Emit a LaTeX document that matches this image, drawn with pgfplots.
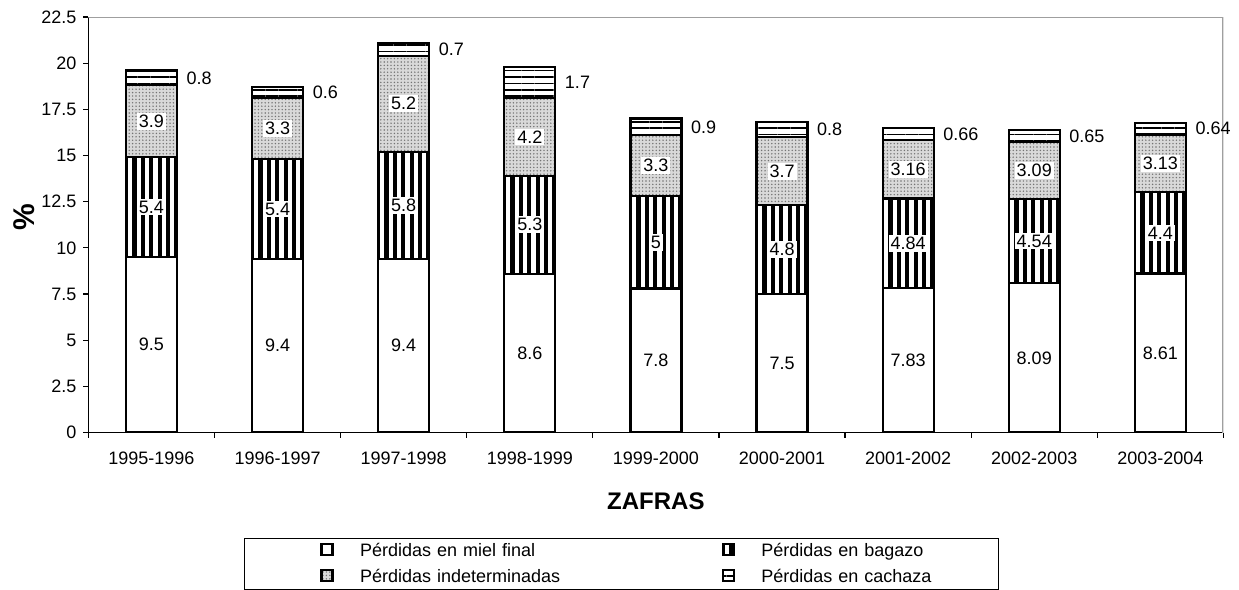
\documentclass[border=0pt]{standalone}
\usepackage{fontspec}
\setmainfont{Liberation Sans}
\usepackage{pgfplots}
\usepackage{pgfplotstable}
\pgfplotsset{compat=1.18}
\usetikzlibrary{patterns,patterns.meta}

\pgfplotstableread{
x miel bagazo indet cachaza
0 9.5  5.4  3.9  0.8
1 9.4  5.4  3.3  0.6
2 9.4  5.8  5.2  0.7
3 8.6  5.3  4.2  1.7
4 7.8  5.0  3.3  0.9
5 7.5  4.8  3.7  0.8
6 7.83 4.84 3.16 0.66
7 8.09 4.54 3.09 0.65
8 8.61 4.4  3.13 0.64
}\datatable

\pgfplotstableread{
x y label
0 4.75 9.5
1 4.7 9.4
2 4.7 9.4
3 4.3 8.6
4 3.9 7.8
5 3.75 7.5
6 3.915 7.83
7 4.045 8.09
8 4.305 8.61
0 12.2 5.4
1 12.1 5.4
2 12.3 5.8
3 11.25 5.3
4 10.3 5
5 9.9 4.8
6 10.25 4.84
7 10.36 4.54
8 10.81 4.4
0 16.85 3.9
1 16.45 3.3
2 17.8 5.2
3 16.0 4.2
4 14.45 3.3
5 14.15 3.7
6 14.25 3.16
7 14.175 3.09
8 14.575 3.13
}\labin

\pgfplotstableread{
x y label
0.26 19.2 0.8
1.26 18.4 0.6
2.26 20.75 0.7
3.26 18.95 1.7
4.26 16.55 0.9
5.26 16.4 0.8
6.26 16.16 0.66
7.26 16.045 0.65
8.26 16.46 0.64
}\labout

\newcommand{\lblfont}{\fontsize{9}{10}\selectfont}

\begin{document}
\begin{tikzpicture}
\begin{axis}[
  name=main,
  scale only axis,
  width=567.5pt, height=207.75pt,
  ybar stacked,
  bar width=25.5pt,
  xmin=-0.5, xmax=8.5,
  ymin=0, ymax=22.5,
  axis lines=left,
  axis line style={-, black, line width=0.8pt},
  tick align=outside,
  ytick={0,2.5,5,7.5,10,12.5,15,17.5,20,22.5},
  yticklabel style={/pgf/number format/.cd, fixed, precision=1},
  /pgf/number format/assume math mode=true,
  xtick={0,...,8},
  xticklabels={1995-1996,1996-1997,1997-1998,1998-1999,1999-2000,2000-2001,2001-2002,2002-2003,2003-2004},
  minor xtick={-0.5,0.5,...,8.5},
  major x tick style={draw=none},
  minor x tick style={black, line width=0.6pt},
  y tick style={black, line width=0.6pt},
  major tick length=2.5pt,
  minor tick length=2.5pt,
  tick label style={font=\lblfont},
  xticklabel style={yshift=-3.5pt},
  xlabel={\bfseries ZAFRAS},
  ylabel={\bfseries \%},
  every axis x label/.style={at={(axis description cs:0.5,0)}, anchor=center, yshift=-34.5pt, font=\fontsize{12}{14}\selectfont},
  every axis y label/.style={at={(axis description cs:0,0.519)}, xshift=-32.2pt, anchor=center, rotate=90, font=\fontsize{15}{17}\selectfont},
  legend columns=2,
  legend cell align=left,
  legend style={
    at={(axis description cs:0,0)}, anchor=north west,
    xshift=77.8pt, yshift=-52.75pt,
    draw=black, line width=0.6pt,
    inner xsep=0pt, inner ysep=2pt,
    row sep=4.5pt,
    font=\lblfont,
    nodes={inner sep=0pt, text width=118.5pt, text height=6.5pt, text depth=1.5pt, align=left},
    /tikz/every odd column/.append style={column sep=13pt},
    /tikz/every even column/.append style={column sep=24.5pt},
  },
  legend image code/.code={
    \pgfpathrectangle{\pgfpoint{0pt}{-4pt}}{\pgfpoint{44pt}{8pt}}\pgfusepath{}
    \draw[#1, line width=1.4pt] (38.5pt,-1.75pt) rectangle (44pt,3.75pt);
  },
]
\addplot[draw=black, line width=1.1pt, fill=white] table[x=x, y=miel] \datatable;
\addlegendentry{Pérdidas en miel final}
\addplot[draw=black, line width=1.1pt, pattern={Lines[angle=90, distance=4.2pt, line width=2.1pt]}, pattern color=black] table[x=x, y=bagazo] \datatable;
\addlegendentry{Pérdidas en bagazo}
\addplot[draw=black, line width=1.1pt, fill=gray!30, postaction={pattern={Dots[distance=1.7pt, radius=0.4pt]}, pattern color=gray!90!black}] table[x=x, y=indet] \datatable;
\addlegendentry{Pérdidas indeterminadas}
\addplot[draw=black, line width=1.1pt, pattern={Lines[angle=0, distance=3.2pt, line width=0.8pt]}, pattern color=black] table[x=x, y=cachaza] \datatable;
\addlegendentry{Pérdidas en cachaza}
\draw[gray!75, line width=1pt] (rel axis cs:0,1) -- (rel axis cs:1,1) -- (rel axis cs:1,0);
\end{axis}
\begin{axis}[
  at={(main.south west)}, anchor=south west,
  scale only axis,
  width=567.5pt, height=207.75pt,
  xmin=-0.5, xmax=8.5, ymin=0, ymax=22.5,
  hide axis, clip=false,
]
\addplot[draw=none, mark=none, nodes near coords, point meta=explicit symbolic,
  nodes near coords align={center},
  every node near coord/.append style={anchor=center, fill=white, inner sep=1pt, font=\lblfont}]
  table[x=x, y=y, meta=label] \labin;
\addplot[draw=none, mark=none, nodes near coords, point meta=explicit symbolic,
  nodes near coords align={west},
  every node near coord/.append style={anchor=west, inner sep=1pt, font=\lblfont}]
  table[x=x, y=y, meta=label] \labout;
\end{axis}
\pgfresetboundingbox
\path[use as bounding box] ([xshift=-44.2pt,yshift=-78.25pt]main.south west) rectangle ([xshift=7.8pt,yshift=8.5pt]main.north east);
\end{tikzpicture}
\end{document}
